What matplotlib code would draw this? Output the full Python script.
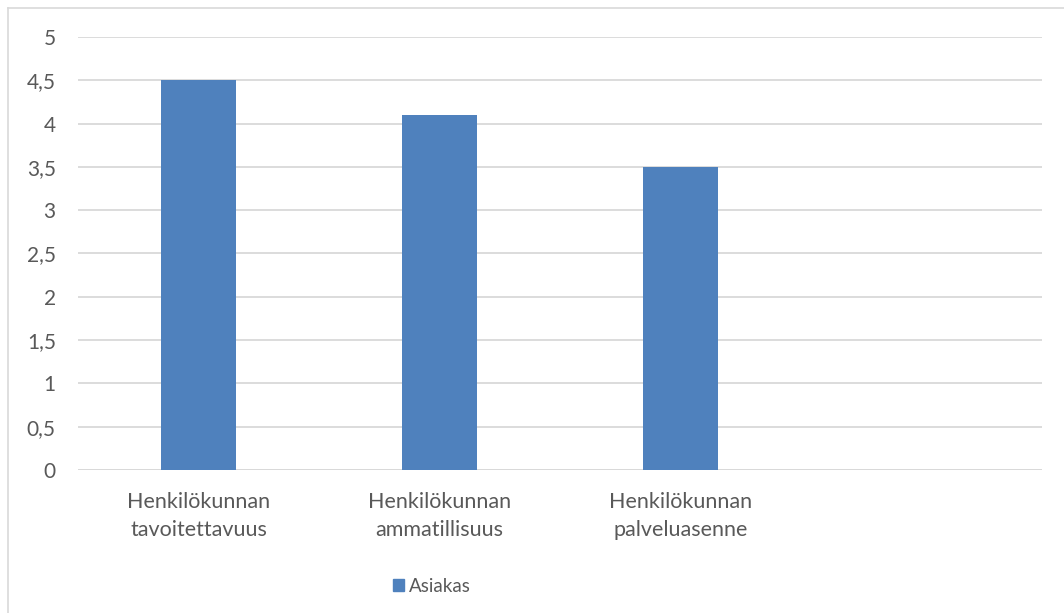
import matplotlib.pyplot as plt
from matplotlib.lines import Line2D
from matplotlib.patches import Patch

# Asiakaskyselyn keskiarvot
categories = ['Henkilökunnan\ntavoitettavuus', 'Henkilökunnan\nammatillisuus',
              'Henkilökunnan\npalveluasenne', '']
values = [4.5, 4.1, 3.5]
series_name = 'Asiakas'
yticks = [0, 0.5, 1, 1.5, 2, 2.5, 3, 3.5, 4, 4.5, 5]
ytick_labels = ['0', '0,5', '1', '1,5', '2', '2,5', '3', '3,5', '4', '4,5', '5']

BAR = '#4F81BD'
GRID = '#D9D9D9'
TXT = '#595959'
plt.rcParams['font.family'] = ['Lato', 'DejaVu Sans']

fig = plt.figure(figsize=(10.64, 6.13), dpi=100)
ax = fig.add_axes([78 / 1064, 1 - 470 / 613, (1042 - 78) / 1064, (470 - 37) / 613])

xs = range(len(values))
ax.bar(xs, values, width=0.315, color=BAR, zorder=3)

ax.set_xlim(-0.5, len(categories) - 0.5)
ax.set_ylim(0, 5)
ax.set_yticks(yticks)
ax.set_yticklabels(ytick_labels)
ax.set_xticks(range(len(categories)))
ax.set_xticklabels(categories, linespacing=1.5)
ax.tick_params(axis='y', length=0, pad=16, labelsize=15, labelcolor=TXT)
ax.tick_params(axis='x', length=0, pad=16, labelsize=15.5, labelcolor=TXT)
ax.grid(axis='y', color=GRID, linewidth=1.3, zorder=0)
for s in ax.spines.values():
    s.set_visible(False)
ax.axhline(0, color=GRID, linewidth=1.3, zorder=2)

# kaavion reunaviiva (ylä ja vasen)
fig.add_artist(Line2D([8 / 1064, 1], [1 - 8 / 613, 1 - 8 / 613], color=GRID, linewidth=1.2))
fig.add_artist(Line2D([8 / 1064, 8 / 1064], [0, 1 - 8 / 613], color=GRID, linewidth=1.2))

fig.legend(handles=[Patch(color=BAR, label=series_name)], loc='center',
           bbox_to_anchor=(432 / 1064, 1 - 586 / 613), frameon=False,
           fontsize=13.5, labelcolor=TXT, handlelength=0.6, handleheight=0.6,
           handletextpad=0.25)

fig.savefig('out.png', dpi=100, facecolor='white')
